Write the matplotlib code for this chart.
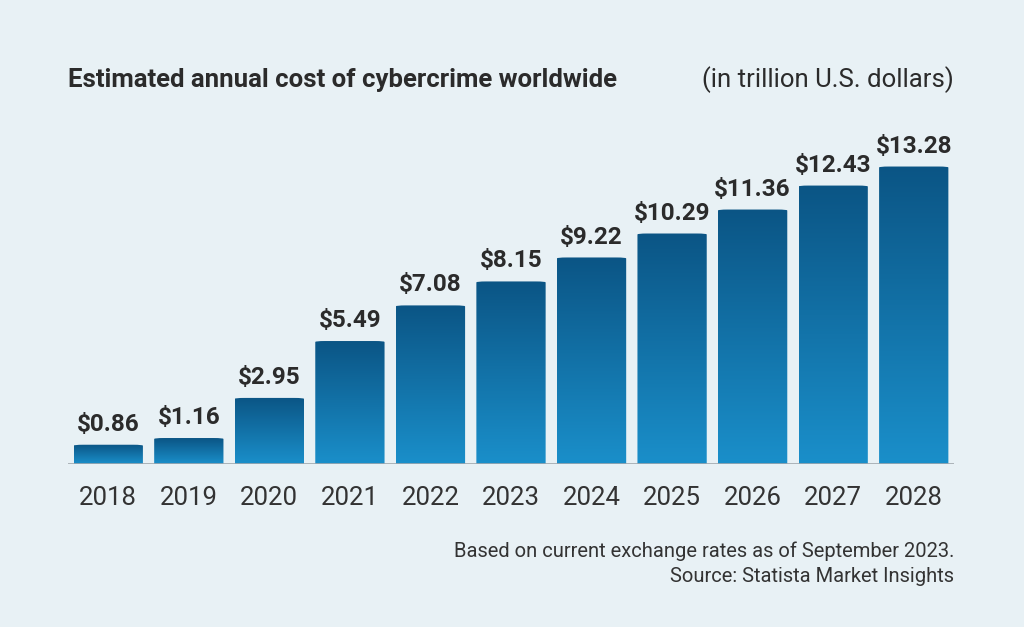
import numpy as np
import matplotlib.pyplot as plt
from matplotlib.patches import FancyBboxPatch
from matplotlib.colors import LinearSegmentedColormap

years = ['2018', '2019', '2020', '2021', '2022', '2023', '2024', '2025', '2026', '2027', '2028']
costs = [0.86, 1.16, 2.95, 5.49, 7.08, 8.15, 9.22, 10.29, 11.36, 12.43, 13.28]

W, H = 1024, 627
bg = '#e8f1f5'
plt.rcParams['font.family'] = ['Roboto', 'DejaVu Sans']

fig = plt.figure(figsize=(W / 100, H / 100), dpi=100, facecolor=bg)
# axes placed in pixel coords: x 68..954, baseline y=464, top y=100
ax = fig.add_axes([68 / W, 1 - 464 / H, (954 - 68) / W, (464 - 100) / H])
ax.set_facecolor(bg)
ymax = 364 / 22.4
ax.set_xlim(-0.5, len(years) - 0.5)
ax.set_ylim(0, ymax)

grad = np.linspace(0, 1, 256).reshape(-1, 1)
cmap = LinearSegmentedColormap.from_list('b', ['#1a8fca', '#0b5585'])
bw = 0.86
for i, v in enumerate(costs):
    x0 = i - bw / 2
    patch = FancyBboxPatch((x0, -0.5), bw, v + 0.5,
                           boxstyle='round,pad=0,rounding_size=0.12',
                           mutation_aspect=0.35,
                           facecolor='none', edgecolor='none')
    ax.add_patch(patch)
    im = ax.imshow(grad, extent=(x0, x0 + bw, 0, v), origin='lower', cmap=cmap,
                   aspect='auto', zorder=2)
    im.set_clip_path(patch)
    ax.text(i, v + 0.4, f'${v:.2f}', ha='center', va='bottom', fontsize=17.5,
            fontweight='bold', color='#2b2b2b')

ax.axhline(0, color='#a0a8ae', lw=1.2, zorder=3)
ax.set_xticks(range(len(years)))
ax.set_xticklabels(years, fontsize=18.5, color='#333333')
ax.tick_params(axis='x', length=0, pad=16)
ax.set_yticks([])
for s in ax.spines.values():
    s.set_visible(False)

fig.text(68 / W, 1 - 80 / H, 'Estimated annual cost of cybercrime worldwide', fontsize=18.5,
         fontweight='bold', color='#2b2b2b', va='center', ha='left')
fig.text(954 / W, 1 - 80 / H, '(in trillion U.S. dollars)', fontsize=18.5,
         color='#2b2b2b', va='center', ha='right')
fig.text(954 / W, 1 - 551 / H, 'Based on current exchange rates as of September 2023.',
         fontsize=14.5, color='#333333', va='center', ha='right')
fig.text(954 / W, 1 - 577 / H, 'Source: Statista Market Insights',
         fontsize=14.5, color='#333333', va='center', ha='right')

fig.savefig('out.png', dpi=100, facecolor=bg)
